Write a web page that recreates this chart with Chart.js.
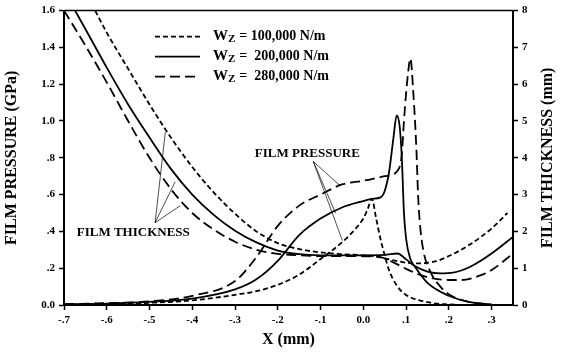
<!DOCTYPE html>
<html>
<head>
<meta charset="utf-8">
<script src="https://cdn.jsdelivr.net/npm/chart.js@4"></script>
<style>
  html, body { margin: 0; padding: 0; background: #fff; }
  #wrap { width: 563px; height: 356px; }
</style>
</head>
<body>
<div id="wrap"><canvas id="chart" width="563" height="356"></canvas></div>
<script>
// tick values
const xTicks = [-0.7, -0.6, -0.5, -0.4, -0.3, -0.2, -0.1, 0, 0.1, 0.2, 0.3];
const pressTicks = [0, 0.2, 0.4, 0.6, 0.8, 1.0, 1.2, 1.4, 1.6];
const thickTicks = [0, 1, 2, 3, 4, 5, 6, 7, 8];

// film pressure (GPa)
const xP100 = [-0.7, -0.6, -0.5, -0.4, -0.3, -0.25, -0.2, -0.15, -0.1, -0.05, -0.02, 0.0, 0.01, 0.02, 0.03, 0.04, 0.05, 0.06, 0.08, 0.1, 0.15, 0.2, 0.25];
const p100 = [0.003, 0.006, 0.012, 0.025, 0.055, 0.075, 0.11, 0.165, 0.25, 0.34, 0.41, 0.47, 0.52, 0.577, 0.47, 0.36, 0.27, 0.19, 0.1, 0.055, 0.015, 0.003, 0];

const xP200 = [-0.7, -0.6, -0.5, -0.4, -0.3, -0.25, -0.2, -0.15, -0.1, -0.05, 0, 0.02, 0.04, 0.05, 0.06, 0.07, 0.078, 0.085, 0.09, 0.095, 0.1, 0.11, 0.12, 0.15, 0.2, 0.25, 0.3];
const p200 = [0.004, 0.008, 0.017, 0.035, 0.085, 0.14, 0.24, 0.38, 0.47, 0.53, 0.565, 0.577, 0.585, 0.62, 0.72, 0.9, 1.03, 0.97, 0.8, 0.5, 0.36, 0.25, 0.21, 0.12, 0.05, 0.015, 0.002];

const xP280 = [-0.7, -0.6, -0.5, -0.4, -0.3, -0.25, -0.2, -0.15, -0.1, -0.05, 0, 0.05, 0.08, 0.09, 0.095, 0.1, 0.105, 0.11, 0.117, 0.124, 0.128, 0.132, 0.14, 0.155, 0.18, 0.21, 0.25, 0.3];
const p280 = [0.005, 0.01, 0.02, 0.05, 0.13, 0.26, 0.43, 0.54, 0.6, 0.655, 0.675, 0.7, 0.73, 0.82, 1.0, 1.15, 1.27, 1.34, 1.15, 0.85, 0.6, 0.45, 0.3, 0.19, 0.1, 0.045, 0.015, 0.002];

// film thickness (mm)
const xH100 = [-0.627, -0.6, -0.55, -0.5, -0.45, -0.4, -0.35, -0.3, -0.25, -0.2, -0.15, -0.1, -0.05, 0, 0.03, 0.06, 0.1, 0.13, 0.17, 0.2, 0.25, 0.3, 0.337];
const h100 = [8, 7.4, 6.42, 5.45, 4.55, 3.75, 3.06, 2.48, 2.0, 1.68, 1.52, 1.43, 1.38, 1.35, 1.32, 1.24, 1.15, 1.13, 1.19, 1.33, 1.65, 2.08, 2.5];

const xH200 = [-0.674, -0.65, -0.6, -0.55, -0.5, -0.45, -0.4, -0.35, -0.3, -0.25, -0.2, -0.15, -0.1, 0, 0.05, 0.08, 0.1, 0.12, 0.15, 0.18, 0.21, 0.25, 0.3, 0.35];
const h200 = [8, 7.5, 6.45, 5.45, 4.55, 3.7, 3.0, 2.45, 2.02, 1.7, 1.48, 1.38, 1.35, 1.35, 1.36, 1.4, 1.24, 1.06, 0.91, 0.86, 0.88, 1.04, 1.4, 1.85];

const xH280 = [-0.7, -0.65, -0.6, -0.55, -0.5, -0.45, -0.4, -0.35, -0.3, -0.25, -0.2, -0.15, -0.1, 0, 0.04, 0.07, 0.1, 0.13, 0.16, 0.2, 0.23, 0.27, 0.3, 0.35];
const h280 = [8, 7.05, 6.05, 5.0, 4.0, 3.15, 2.5, 2.05, 1.72, 1.5, 1.39, 1.35, 1.33, 1.325, 1.3, 1.16, 0.98, 0.83, 0.73, 0.68, 0.68, 0.79, 0.95, 1.4];

// legend and callouts
const legendLoads = ["100,000", " 200,000", " 280,000"];
const pressLabel = { x: -0.131, y: 0.824, text: "FILM PRESSURE" };
const pressApex = { x: -0.117, y: 0.78 };
const pressEnds = [[-0.054, 0.647], [-0.065, 0.5], [-0.049, 0.35]];
const thickLabel = { x: -0.538, y: 0.395, text: "FILM THICKNESS" };
const thickApex = { x: -0.487, y: 0.447 };
const thickEnds = [[-0.463, 0.94], [-0.44, 0.67], [-0.428, 0.54]];

const SHORT = [5, 3];
const LONG = [10, 5];
const SERIF = "'Liberation Serif', 'Times New Roman', serif";

function pts(xs, ys) {
    return xs.map((x, i) => ({ x: x, y: ys[i] }));
}

function lineSet(label, xs, ys, dash, axis) {
    return {
        label: label,
        data: pts(xs, ys),
        yAxisID: axis,
        borderColor: "#000",
        borderWidth: 1.8,
        borderDash: dash,
        pointRadius: 0,
        fill: false,
        cubicInterpolationMode: "monotone",
    };
}

function fmt(v) {
    let s = Math.abs(v) < 1e-9 ? "0.0" : v.toFixed(1);
    if (s.startsWith("0.") && s !== "0.0") s = s.slice(1);
    if (s.startsWith("-0.")) s = "-" + s.slice(2);
    return s;
}

const extras = {
    id: "extras",
    afterDatasetsDraw(chart) {
        const ctx = chart.ctx;
        const xs = chart.scales.x, ys = chart.scales.y;
        const a = chart.chartArea;
        ctx.save();
        // top frame line
        ctx.strokeStyle = "#000";
        ctx.lineWidth = 1.5;
        ctx.beginPath();
        ctx.moveTo(a.left, a.top);
        ctx.lineTo(a.right, a.top);
        ctx.stroke();

        // legend
        const dashes = [SHORT, [], LONG];
        ctx.fillStyle = "#000";
        ctx.textBaseline = "middle";
        legendLoads.forEach((load, i) => {
            const y = a.top + 26 + i * 20;
            ctx.setLineDash(dashes[i]);
            ctx.lineWidth = 1.8;
            ctx.beginPath();
            ctx.moveTo(a.left + 91, y);
            ctx.lineTo(a.left + 136, y);
            ctx.stroke();
            ctx.setLineDash([]);
            let x = a.left + 149;
            ctx.font = "bold 15px " + SERIF;
            ctx.fillText("W", x, y);
            x += ctx.measureText("W").width;
            ctx.font = "bold 11px " + SERIF;
            ctx.fillText("Z", x, y + 3);
            x += ctx.measureText("Z").width + 4;
            ctx.font = "bold 14px " + SERIF;
            ctx.fillText("= " + load + " N/m", x, y);
        });

        // callouts
        ctx.lineWidth = 0.7;
        function fan(apex, ends) {
            ends.forEach(e => {
                ctx.beginPath();
                ctx.moveTo(xs.getPixelForValue(apex.x), ys.getPixelForValue(apex.y));
                ctx.lineTo(xs.getPixelForValue(e[0]), ys.getPixelForValue(e[1]));
                ctx.stroke();
            });
        }
        fan(pressApex, pressEnds);
        fan(thickApex, thickEnds);
        ctx.font = "bold 13px " + SERIF;
        ctx.textAlign = "center";
        ctx.fillText(pressLabel.text, xs.getPixelForValue(pressLabel.x), ys.getPixelForValue(pressLabel.y));
        ctx.fillText(thickLabel.text, xs.getPixelForValue(thickLabel.x), ys.getPixelForValue(thickLabel.y));

        // right axis title, reading bottom to top
        ctx.font = "bold 16px " + SERIF;
        ctx.translate(chart.width - 15, (a.top + a.bottom) / 2);
        ctx.rotate(-Math.PI / 2);
        ctx.fillText("FILM THICKNESS (mm)", 0, 0);
        ctx.restore();
    }
};

const tickFont = { family: SERIF, size: 11, weight: "bold" };
const titleFont = { family: SERIF, size: 16, weight: "bold" };

new Chart(document.getElementById("chart"), {
    type: "line",
    data: {
        datasets: [
            lineSet("P 100", xP100, p100, SHORT, "y"),
            lineSet("P 200", xP200, p200, [], "y"),
            lineSet("P 280", xP280, p280, LONG, "y"),
            lineSet("H 100", xH100, h100, SHORT, "y1"),
            lineSet("H 200", xH200, h200, [], "y1"),
            lineSet("H 280", xH280, h280, LONG, "y1"),
        ],
    },
    plugins: [extras],
    options: {
        responsive: false,
        animation: false,
        layout: { padding: { top: 8, left: 0, right: 0, bottom: 0 } },
        plugins: {
            legend: { display: false },
            tooltip: { enabled: false },
        },
        scales: {
            x: {
                type: "linear",
                min: -0.7,
                max: 0.35,
                afterBuildTicks: s => { s.ticks = xTicks.map(v => ({ value: v })); },
                afterFit: s => { s.height = 51; },
                grid: { drawOnChartArea: false, tickLength: 5, tickColor: "#000", tickWidth: 1.5 },
                border: { color: "#000", width: 2 },
                ticks: { color: "#000", font: tickFont, padding: 4, maxRotation: 0, callback: v => fmt(v) },
                title: { display: true, text: "X (mm)", color: "#000", font: titleFont, padding: { top: 4, bottom: 7 } },
            },
            y: {
                position: "left",
                min: 0,
                max: 1.6,
                afterBuildTicks: s => { s.ticks = pressTicks.map(v => ({ value: v })); },
                afterFit: s => { s.width = 64; },
                grid: { drawOnChartArea: false, tickLength: 5, tickColor: "#000", tickWidth: 1.5 },
                border: { color: "#000", width: 2 },
                ticks: { color: "#000", font: tickFont, padding: 4, callback: v => fmt(v) },
                title: { display: true, text: "FILM PRESSURE (GPa)", color: "#000", font: titleFont, padding: { top: 2, bottom: 4 } },
            },
            y1: {
                position: "right",
                min: 0,
                max: 8,
                afterBuildTicks: s => { s.ticks = thickTicks.map(v => ({ value: v })); },
                afterFit: s => { s.width = 50; },
                grid: { drawOnChartArea: false, tickLength: 5, tickColor: "#000", tickWidth: 1.5 },
                border: { color: "#000", width: 2 },
                ticks: { color: "#000", font: tickFont, padding: 4, callback: v => String(v) },
            },
        },
    },
});
</script>
</body>
</html>
